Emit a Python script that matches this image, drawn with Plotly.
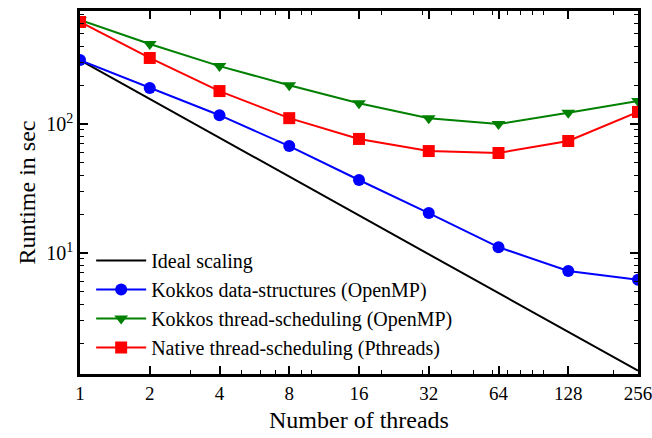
import plotly.graph_objects as go

threads = [1, 2, 4, 8, 16, 32, 64, 128, 256]
ideal = [313 / t for t in threads]
kokkos_ds = [313, 190, 117, 67.4, 36.8, 20.4, 11.1, 7.25, 6.2]
kokkos_ts = [640, 417, 281, 200, 145, 111, 100, 122, 151]
native_ts = [618, 325, 180, 111, 76.6, 61.7, 59.6, 73.8, 124]

x_ticks = [1, 2, 4, 8, 16, 32, 64, 128, 256]
x_minor = [3, 5, 6, 7, 9, 10, 20, 30, 40, 50, 60, 70, 80, 90, 100, 200]
y_ticks = [10, 100]
y_ticktext = ["10<sup>1</sup>", "10<sup>2</sup>"]
y_minor = [2, 3, 4, 5, 6, 7, 8, 9, 20, 30, 40, 50, 60, 70, 80, 90, 200, 300, 400, 500, 600, 700]

font = "Liberation Serif"

fig = go.Figure()
fig.add_trace(go.Scatter(x=threads, y=ideal, mode="lines", name="Ideal scaling",
                         line=dict(color="black", width=2)))
fig.add_trace(go.Scatter(x=threads, y=kokkos_ds, mode="lines+markers",
                         name="Kokkos data-structures (OpenMP)",
                         line=dict(color="#0000ff", width=2),
                         marker=dict(symbol="circle", size=12, color="#0000ff")))
fig.add_trace(go.Scatter(x=threads, y=kokkos_ts, mode="lines+markers",
                         name="Kokkos thread-scheduling (OpenMP)",
                         line=dict(color="#008000", width=2),
                         marker=dict(symbol="triangle-down", size=12, color="#008000")))
fig.add_trace(go.Scatter(x=threads, y=native_ts, mode="lines+markers",
                         name="Native thread-scheduling (Pthreads)",
                         line=dict(color="#ff0000", width=2),
                         marker=dict(symbol="square", size=12, color="#ff0000")))

axis_common = dict(type="log", showline=True, linecolor="black", linewidth=2.5,
                   mirror="allticks", ticks="inside", ticklen=8, tickwidth=1.5,
                   tickcolor="black", showgrid=False, zeroline=False, automargin=False,
                   ticklabeloverflow="allow",
                   tickfont=dict(family=font, size=20, color="black"))

fig.update_xaxes(**axis_common, range=[0, 2.40824], tickvals=x_ticks,
                 ticktext=[str(t) for t in x_ticks],
                 minor=dict(tickvals=x_minor, ticks="inside", ticklen=4,
                            tickwidth=1, tickcolor="black", showgrid=False),
                 title=dict(text="Number of threads", font=dict(family=font, size=24, color="black"),
                            standoff=9))
fig.update_yaxes(**axis_common, range=[0.062, 2.876], tickvals=y_ticks,
                 ticktext=y_ticktext,
                 minor=dict(tickvals=y_minor, ticks="inside", ticklen=4,
                            tickwidth=1, tickcolor="black", showgrid=False),
                 title=dict(text="Runtime in sec", font=dict(family=font, size=24, color="black"),
                            standoff=4))
fig.update_xaxes(tickfont=dict(size=19))

fig.update_layout(
    width=652, height=438,
    margin=dict(l=80, r=14, t=11, b=64),
    plot_bgcolor="white", paper_bgcolor="white",
    font=dict(family=font, color="black"),
    legend=dict(x=0.02, y=0.019, xanchor="left", yanchor="bottom",
                bgcolor="rgba(0,0,0,0)", borderwidth=0,
                font=dict(family=font, size=20, color="black"),
                itemwidth=50, tracegroupgap=0),
    showlegend=True,
)

fig.write_html("out.html", config={"displayModeBar": False},
               post_script="document.body.style.margin='0px';document.body.style.overflow='hidden';")
